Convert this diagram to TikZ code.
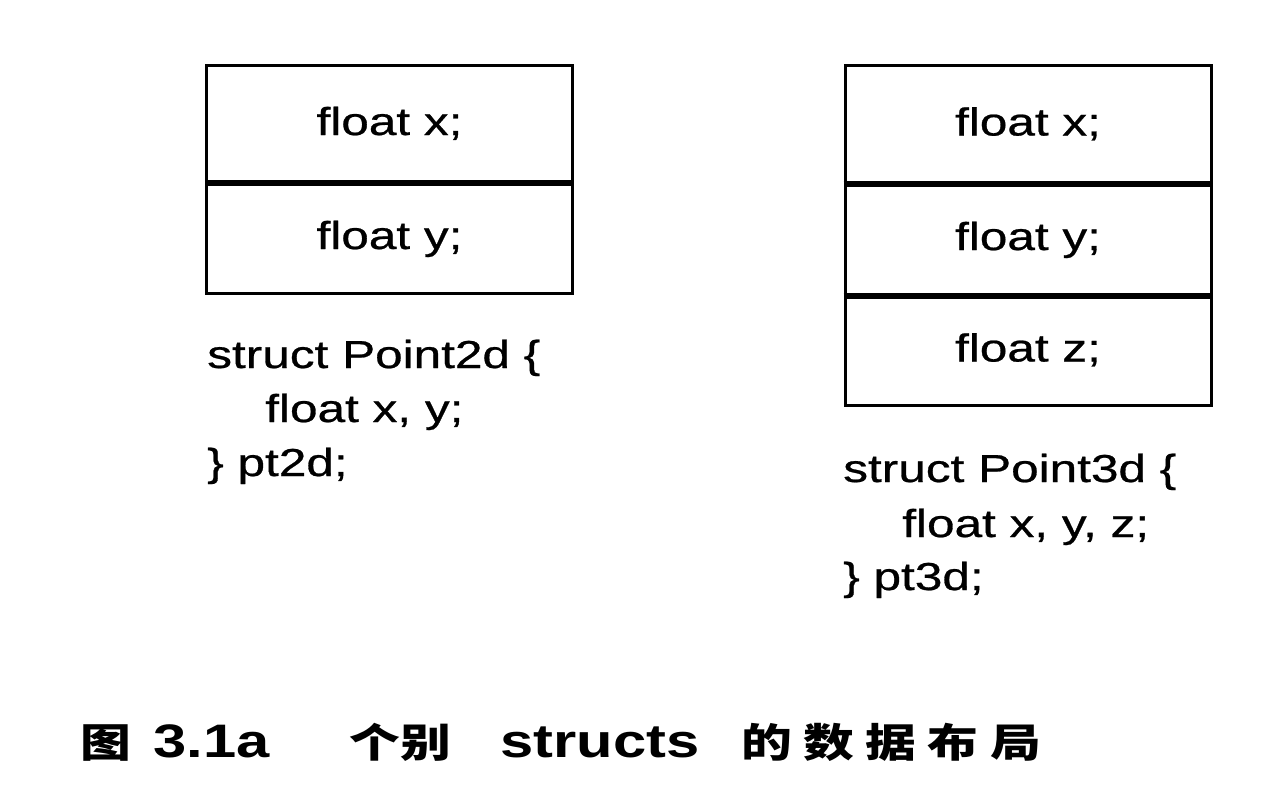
\documentclass[tikz,border=0pt]{standalone}
\usepackage{fontspec}
\setmainfont{Liberation Sans}
\newfontfamily\bodyfont{Liberation Sans}[FakeBold=0.6]
\newfontfamily\cjk{Noto Sans CJK SC}
\newcommand\sx[1]{\scalebox{1.27}[1]{#1}}
\begin{document}
\begin{tikzpicture}[x=0.75pt,y=-0.75pt,
  cell/.style={draw=black,line width=2.25pt,inner sep=0pt,minimum width=274.5pt},
  divider/.style={line width=4.5pt,draw=black},
  field/.style={anchor=base,inner sep=0pt,font=\fontsize{29.25pt}{36pt}\selectfont\bodyfont},
  code/.style={anchor=base west,inner sep=0pt,font=\fontsize{29.25pt}{36pt}\selectfont\bodyfont},
  capl/.style={anchor=base west,inner sep=0pt,font=\fontsize{35.25pt}{40pt}\selectfont\bfseries},
  capc/.style={anchor=base west,inner sep=0pt,font=\fontsize{30pt}{36pt}\selectfont\cjk\bfseries}]
\useasboundingbox[fill=white] (0,0) rectangle (1278,796);
% left struct
\node[cell,minimum height=87pt] (L1) at (389.5,123) {};
\node[cell,minimum height=84pt] (L2) at (389.5,237) {};
\draw[divider] (L1.south west) -- (L1.south east);
\node[field] (L1t) at ([yshift=-9pt]L1.center) {\sx{float x;}};
\node[field] (L2t) at ([yshift=-9pt]L2.center) {\sx{float y;}};
\node[code] (Lc1) at (207,368) {\sx{struct Point2d \{}};
\node[code] (Lc2) at (265,422) {\sx{float x, y;}};
\node[code] (Lc3) at (207,476) {\sx{\} pt2d;}};
% right struct
\node[cell,minimum height=87.75pt] (R1) at (1028,123.5) {};
\node[cell,minimum height=84pt] (R2) at (1028,238) {};
\node[cell,minimum height=83.25pt] (R3) at (1028,349.5) {};
\draw[divider] (R1.south west) -- (R1.south east);
\draw[divider] (R2.south west) -- (R2.south east);
\node[field] (R1t) at ([yshift=-9pt]R1.center) {\sx{float x;}};
\node[field] (R2t) at ([yshift=-9pt]R2.center) {\sx{float y;}};
\node[field] (R3t) at ([yshift=-9pt]R3.center) {\sx{float z;}};
\node[code] (Rc1) at (843,482) {\sx{struct Point3d \{}};
\node[code] (Rc2) at (902,537) {\sx{float x, y, z;}};
\node[code] (Rc3) at (843,590) {\sx{\} pt3d;}};
% caption
\node[capc] (c1) at (80,757) {\sx{图}};
\node[capl] (c2) at (153,757) {\sx{3.1a}};
\node[capc] (c3) at (349,757) {\sx{个别}};
\node[capl] (c4) at (500,757) {\sx{structs}};
\node[capc] (c5) at (741,757) {\sx{的\hspace{6.75pt}数\hspace{6.75pt}据\hspace{6.75pt}布\hspace{6.75pt}局}};
\end{tikzpicture}
\end{document}
